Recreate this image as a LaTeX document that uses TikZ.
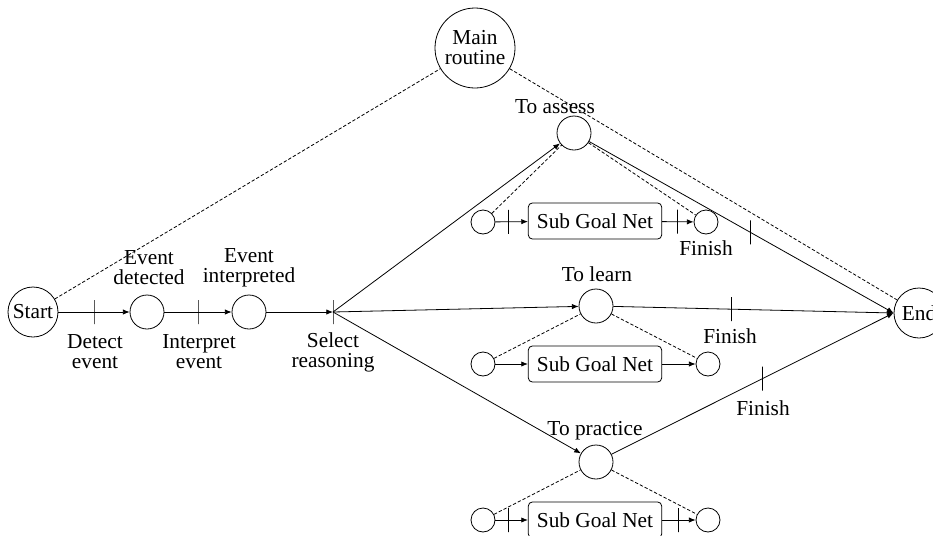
\documentclass[tikz,border=0pt]{standalone}
\usepackage{fontspec}
\setmainfont{Liberation Serif}
\usetikzlibrary{arrows.meta}
\begin{document}
\begin{tikzpicture}[x=0.75pt,y=-0.75pt,line width=0.6pt,
  every node/.style={font=\fontsize{16}{15}\selectfont},
  place/.style={circle,draw,inner sep=0pt},
  big/.style={minimum size=37.5pt},
  mid/.style={minimum size=25.5pt},
  small/.style={minimum size=18pt},
  sgn/.style={draw,rounded corners=3pt,minimum width=100pt,minimum height=27pt,inner sep=0pt},
  tick/.style={draw,inner sep=0pt,minimum width=0pt,minimum height=18pt},
  lbl/.style={align=center},
  arr/.style={-{Latex[length=5pt,width=4pt]}},
  dsh/.style={dash pattern=on 2.5pt off 1.5pt}]
\useasboundingbox (0,0) rectangle (933,536);
% main places
\node[place,big] (S) at (33,312) {Start};
\node[place,mid] (ED) at (147,312) {};
\node[place,mid] (EI) at (249,312) {};
\coordinate (SR) at (333,312);
\node[tick] (SRt) at (SR) {};
\node[place,minimum size=60pt,align=center] (MR) at (475,48) {Main\\routine};
\node[place,big] (E) at (919,313) {End};
\node[place,mid] (TA) at (574,133) {};
\node[place,mid] (TL) at (596,306) {};
\node[place,mid] (TP) at (596,462) {};
% sub goal nets
\node[place,small] (A1) at (483,222) {};
\node[sgn] (A2) at (595,221) {Sub Goal Net};
\node[place,small] (A3) at (706,222) {};
\node[place,small] (B1) at (483,364) {};
\node[sgn] (B2) at (595,364) {Sub Goal Net};
\node[place,small] (B3) at (708,364) {};
\node[place,small] (C1) at (483,520) {};
\node[sgn] (C2) at (595,520) {Sub Goal Net};
\node[place,small] (C3) at (708,520) {};
% labels
\node[lbl] (lED) at (149,268) {Event\\detected};
\node[lbl] (lEI) at (249,268) {Event\\interpreted};
\node[lbl] (lDE) at (95,352) {Detect\\event};
\node[lbl] (lIE) at (199,352) {Interpret\\event};
\node[lbl] (lSR) at (333,352) {Select\\reasoning};
\node[lbl] (lTA) at (555,107) {To assess};
\node[lbl] (lTL) at (597,274) {To learn};
\node[lbl] (lTP) at (595,431) {To practice};
\node[lbl] (f1) at (706,248) {Finish};
\node[lbl] (f2) at (730,336) {Finish};
\node[lbl] (f3) at (763,408) {Finish};
% main flow
\draw[arr] (S) -- node[tick,pos=0.5]{} (ED);
\draw[arr] (ED) -- node[tick,pos=0.5]{} (EI);
\draw[arr] (EI) -- (SR);
\draw[arr] (SR) -- (TA);
\draw[arr] (SR) -- (TL);
\draw[arr] (SR) -- (TP);
\draw[arr] (TA) -- node[tick,pos=0.53]{} (E.west);
\draw[arr] (TL) -- node[tick,pos=0.42]{} (E.west);
\draw[arr] (TP) -- node[tick,pos=0.535]{} (E.west);
% dashed
\draw[dsh] (S) -- (MR);
\draw[dsh] (MR) -- (E);
\draw[dsh] (A1) -- (TA);
\draw[dsh] (TA) -- (A3);
\draw[dsh] (B1) -- (TL);
\draw[dsh] (TL) -- (B3);
\draw[dsh] (C1) -- (TP);
\draw[dsh] (TP) -- (C3);
% sub nets
\draw[arr] (A1) -- node[tick,pos=0.4]{} (A2);
\draw[arr] (A2) -- node[tick,pos=0.48]{} (A3);
\draw[arr] (B1) -- (B2);
\draw[arr] (B2) -- (B3);
\draw[arr] (C1) -- node[tick,pos=0.4]{} (C2);
\draw[arr] (C2) -- node[tick,pos=0.48]{} (C3);
\end{tikzpicture}
\end{document}
